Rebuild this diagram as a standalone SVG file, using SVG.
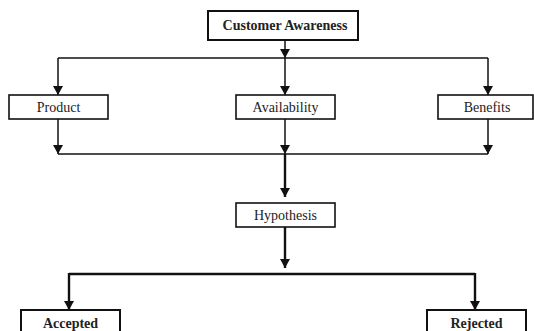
<svg xmlns="http://www.w3.org/2000/svg" width="534" height="331" viewBox="0 0 534 331">
<style>
.box{fill:#fff;stroke:#111;stroke-width:1.6}
.boxb{fill:#fff;stroke:#111;stroke-width:2}
.t{font-family:"Liberation Serif","DejaVu Serif",serif;font-size:14px;fill:#222;text-anchor:middle}
.tb{font-family:"Liberation Serif","DejaVu Serif",serif;font-size:14px;font-weight:bold;fill:#222;text-anchor:middle}
.c{fill:none;stroke:#111;stroke-width:1.5}
.ct{fill:none;stroke:#111;stroke-width:2.4}
</style>
<defs>
<marker id="ah" markerUnits="userSpaceOnUse" markerWidth="10" markerHeight="10" viewBox="0 0 10 10" refX="10" refY="5" orient="auto">
<path d="M1,0 L10,5 L1,10 Z" fill="#111"/>
</marker>
</defs>
<g id="connectors">
<path class="c" d="M285,40 V58" marker-end="url(#ah)"/>
<path class="c" d="M58,58 H488"/>
<path class="c" d="M58,58 V95" marker-end="url(#ah)"/>
<path class="c" d="M285,58 V95" marker-end="url(#ah)"/>
<path class="c" d="M488,58 V95" marker-end="url(#ah)"/>
<path class="c" d="M58,119 V154" marker-end="url(#ah)"/>
<path class="c" d="M285,119 V154" marker-end="url(#ah)"/>
<path class="c" d="M488,119 V154" marker-end="url(#ah)"/>
<path class="c" d="M58,154 H488"/>
<path class="ct" d="M285,154 V197" marker-end="url(#ah)"/>
<path class="ct" d="M285,227 V268" marker-end="url(#ah)"/>
<path class="ct" d="M69,274 H475"/>
<path class="ct" d="M69,273 V310" marker-end="url(#ah)"/>
<path class="ct" d="M475,273 V310" marker-end="url(#ah)"/>
</g>
<g id="customer-awareness">
<rect class="boxb" x="208" y="11" width="150" height="29"/>
<text class="tb" x="285" y="30">Customer Awareness</text>
</g>
<g id="product">
<rect class="box" x="9" y="95" width="99" height="24"/>
<text class="t" x="58.5" y="112">Product</text>
</g>
<g id="availability">
<rect class="box" x="236" y="95" width="99" height="24"/>
<text class="t" x="285.5" y="112">Availability</text>
</g>
<g id="benefits">
<rect class="box" x="438" y="95" width="95" height="24"/>
<text class="t" x="487" y="112">Benefits</text>
</g>
<g id="hypothesis">
<rect class="box" x="236" y="203" width="99" height="24"/>
<text class="t" x="285.5" y="220">Hypothesis</text>
</g>
<g id="accepted">
<rect class="boxb" x="21" y="310" width="99" height="30"/>
<text class="tb" x="70.5" y="328">Accepted</text>
</g>
<g id="rejected">
<rect class="boxb" x="427" y="310" width="99" height="30"/>
<text class="tb" x="476.5" y="328">Rejected</text>
</g>
</svg>
